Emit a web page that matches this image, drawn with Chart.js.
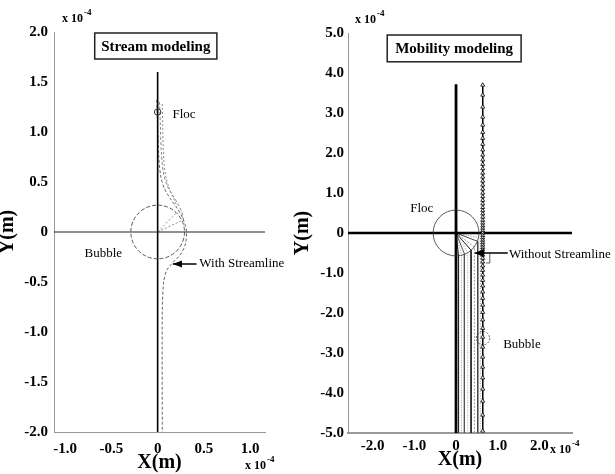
<!DOCTYPE html>
<html><head><meta charset="utf-8">
<script src="https://cdn.jsdelivr.net/npm/chart.js@4/dist/chart.umd.min.js"></script>
<style>
html,body{margin:0;padding:0;background:#fff;}
#wrap{position:relative;width:615px;height:474px;overflow:hidden;background:#fff;}
canvas{position:absolute;left:0;top:0;}
</style></head><body>
<div id="wrap"><canvas id="c1" width="615" height="474"></canvas><canvas id="c2" width="615" height="474"></canvas></div>
<script>
// ===== Left panel: Stream modeling (units x 10^-4 m) =====
const streamXTicks = [-1.0, -0.5, 0, 0.5, 1.0];
const streamXLabels = ['-1.0', '-0.5', '0', '0.5', '1.0'];
const streamYTicks = [2.0, 1.5, 1.0, 0.5, 0, -0.5, -1.0, -1.5, -2.0];
const streamYLabels = ['2.0', '1.5', '1.0', '0.5', '0', '-0.5', '-1.0', '-1.5', '-2.0'];
const streamVertX = [0, 0];
const streamVertY = [1.6, -2.0];
const streamHorX = [-1.12, 1.16];
const streamHorY = [0, 0];
const stream1X = [-0.01, 0, 0.012, 0.035, 0.075, 0.14, 0.21, 0.27, 0.31, 0.3, 0.25, 0.17, 0.1, 0.065, 0.05, 0.05];
const stream1Y = [1.32, 1.05, 0.75, 0.55, 0.43, 0.33, 0.24, 0.14, 0.02, -0.12, -0.22, -0.3, -0.38, -0.5, -0.8, -2.0];
const stream2X = [0.02, 0.03, 0.04, 0.06, 0.1, 0.16, 0.22, 0.26, 0.28];
const stream2Y = [1.3, 1.05, 0.8, 0.6, 0.47, 0.37, 0.28, 0.2, 0.12];
const stream3X = [0.05, 0.055, 0.06, 0.07, 0.09, 0.12, 0.16, 0.2];
const stream3Y = [1.28, 1.05, 0.85, 0.68, 0.55, 0.45, 0.36, 0.28];
const streamRadialX = [0.2, 0.25];
const streamRadialY = [0.19, 0.11];

// ===== Right panel: Mobility modeling (units x 10^-4 m) =====
const mobXTicks = [-2, -1, 0, 1, 2];
const mobXLabels = ['-2.0', '-1.0', '0', '1.0', '2.0'];
const mobYTicks = [5, 4, 3, 2, 1, 0, -1, -2, -3, -4, -5];
const mobYLabels = ['5.0', '4.0', '3.0', '2.0', '1.0', '0', '-1.0', '-2.0', '-3.0', '-4.0', '-5.0'];
const mobVertX = [0, 0];
const mobVertY = [3.72, -5.0];
const mobHorX = [-2.59, 2.78];
const mobHorY = [0, 0];
const bubblePathX = 0.64;
const bubblePathY = [3.7, 3.45, 3.15, 2.9, 2.7, 2.52, 2.37, 2.22, 2.08, 1.95, 1.83, 1.72, 1.61, 1.5, 1.4, 1.3, 1.2, 1.1, 1.0, 0.91, 0.82, 0.73, 0.64, 0.56, 0.48, 0.4, 0.32, 0.25, 0.18, 0.12, 0.06, 0.0, -0.06, -0.12, -0.18, -0.24, -0.3, -0.36, -0.42, -0.48, -0.55, -0.63, -0.72, -0.82, -0.93, -1.05, -1.18, -1.32, -1.47, -1.63, -1.8, -1.98, -2.17, -2.38, -2.6, -2.85, -3.1, -3.35, -3.62, -3.9, -4.2, -4.55, -4.95];
const flocArcX = [0.06, 0.13, 0.2, 0.28, 0.36, 0.44, 0.52, 0.58];
const flocArcY = [-0.56, -0.54, -0.52, -0.49, -0.43, -0.35, -0.21, -0.12];
const flocEndY = -5.0;

const serif = "'Liberation Serif', 'Times New Roman', serif";
const pts = (xs, ys) => xs.map((x, i) => ({x: x, y: ys[i]}));

function makeOverlay(spec) {
  return {
    id: 'overlay',
    afterDatasetsDraw(chart) {
      const ctx = chart.ctx, xs = chart.scales.x, ys = chart.scales.y, ca = chart.chartArea;
      const X = v => xs.getPixelForValue(v), Y = v => ys.getPixelForValue(v);
      ctx.save();
      spec.circles.forEach(c => {
        ctx.beginPath();
        ctx.setLineDash(c.dash);
        ctx.lineWidth = c.width; ctx.strokeStyle = c.color;
        const r = Math.abs(X(c.x + c.r) - X(c.x));
        ctx.arc(X(c.x), Y(c.y), r, 0, Math.PI * 2);
        ctx.stroke();
      });
      ctx.setLineDash([]);
      const b = spec.box;
      ctx.lineWidth = 1.5; ctx.strokeStyle = '#222';
      ctx.strokeRect(X(b.x1), Y(b.y1), X(b.x2) - X(b.x1), Y(b.y2) - Y(b.y1));
      ctx.fillStyle = '#000';
      ctx.font = 'bold 15px ' + serif;
      ctx.textAlign = 'center'; ctx.textBaseline = 'middle';
      ctx.fillText(b.text, (X(b.x1) + X(b.x2)) / 2, (Y(b.y1) + Y(b.y2)) / 2 + 1);
      ctx.font = '13px ' + serif;
      ctx.textAlign = 'left';
      spec.texts.forEach(t => ctx.fillText(t.text, X(t.x), Y(t.y)));
      spec.arrows.forEach(a => {
        ctx.strokeStyle = '#000'; ctx.lineWidth = 1.5;
        ctx.beginPath(); ctx.moveTo(X(a.x1), Y(a.y)); ctx.lineTo(X(a.x2), Y(a.y)); ctx.stroke();
        const tx = X(a.x2), ty = Y(a.y);
        ctx.fillStyle = '#000';
        ctx.beginPath(); ctx.moveTo(tx, ty); ctx.lineTo(tx + a.head, ty - a.half); ctx.lineTo(tx + a.head, ty + a.half); ctx.closePath(); ctx.fill();
      });
      if (spec.bracket) {
        const k = spec.bracket;
        ctx.lineWidth = 0.8; ctx.strokeStyle = '#333';
        ctx.beginPath(); ctx.moveTo(X(k.x2), Y(k.y1)); ctx.lineTo(X(k.x2), Y(k.y2)); ctx.lineTo(X(k.x1), Y(k.y2)); ctx.stroke();
      }
      ctx.fillStyle = '#000';
      spec.exps.forEach(e => {
        const bx = e.ref === 'tl' ? ca.left + e.dx : ca.right + e.dx;
        const by = e.ref === 'tl' ? ca.top + e.dy : ca.bottom + e.dy;
        ctx.font = 'bold 12px ' + serif; ctx.textBaseline = 'alphabetic'; ctx.textAlign = 'left';
        ctx.fillText('x 10', bx, by);
        const w = ctx.measureText('x 10').width;
        ctx.font = 'bold 9px ' + serif;
        ctx.fillText('-4', bx + w + 1, by - 7);
      });
      ctx.restore();
    }
  };
}

function axes(cfg) {
  return {
    x: {
      type: 'linear', position: 'bottom', min: cfg.xmin, max: cfg.xmax,
      afterBuildTicks: s => { s.ticks = cfg.xticks.map(v => ({value: v})); },
      afterFit: s => { s.height = cfg.xh; },
      grid: {display: false, drawTicks: false},
      border: {display: true, color: cfg.xBorderColor, width: cfg.xBorderWidth, dash: cfg.xBorderDash},
      ticks: {padding: cfg.xpad, color: '#000', autoSkip: false, maxRotation: 0,
        font: {family: serif, size: 15, weight: 'bold'}, callback: (v, i) => cfg.xlabels[i]},
      title: {display: true, text: 'X(m)', color: '#000', font: {family: serif, size: 20, weight: 'bold'},
        padding: {top: 0, bottom: cfg.xtpad}}
    },
    y: {
      type: 'linear', position: 'left', min: cfg.ymin, max: cfg.ymax,
      afterBuildTicks: s => { s.ticks = cfg.yticks.map(v => ({value: v})); },
      afterFit: s => { s.width = cfg.yw; },
      grid: {display: false, drawTicks: false},
      border: {display: true, color: '#9a9a9a', width: 1, dash: [1, 2]},
      ticks: {padding: cfg.ypad, color: '#000', autoSkip: false,
        font: {family: serif, size: 15, weight: 'bold'}, callback: (v, i) => cfg.ylabels[i]},
      title: {display: true, text: 'Y(m)', color: '#000', font: {family: serif, size: 20, weight: 'bold'},
        padding: {top: cfg.ytpad, bottom: 0}}
    }
  };
}

const lineDs = (data, color, width, dash, tension) => ({
  data: data, showLine: true, borderColor: color, borderWidth: width, borderDash: dash,
  pointRadius: 0, fill: false, tension: tension || 0
});

new Chart(document.getElementById('c1'), {
  type: 'scatter',
  data: {datasets: [
    lineDs(pts(streamVertX, streamVertY), '#000', 1.6, []),
    lineDs(pts(streamHorX, streamHorY), '#222', 1, []),
    lineDs(pts(stream1X, stream1Y), '#666', 1, [3, 2], 0.3),
    lineDs(pts(stream2X, stream2Y), '#888', 1, [3, 2], 0.3),
    lineDs(pts(stream3X, stream3Y), '#888', 1, [2, 2], 0.3),
    lineDs([{x: 0, y: 0}, {x: streamRadialX[0], y: streamRadialY[0]}], '#777', 0.8, [2, 2]),
    lineDs([{x: 0, y: 0}, {x: streamRadialX[1], y: streamRadialY[1]}], '#777', 0.8, [2, 2])
  ]},
  options: {
    responsive: false, devicePixelRatio: 1, animation: false,
    layout: {padding: {left: 0, top: 32, right: 350, bottom: 0}},
    plugins: {legend: {display: false}, tooltip: {enabled: false}},
    scales: axes({xmin: -1.12, xmax: 1.16, xticks: streamXTicks, xlabels: streamXLabels, xh: 42, xpad: 8, xtpad: -1,
      xBorderColor: '#9a9a9a', xBorderWidth: 1, xBorderDash: [1, 2],
      ymin: -2, ymax: 2, yticks: streamYTicks, ylabels: streamYLabels, yw: 54, ypad: 6, ytpad: -4})
  },
  plugins: [makeOverlay({
    circles: [{x: 0, y: 0, r: 0.29, color: '#555', width: 1, dash: [4, 2]},
              {x: 0, y: 1.2, r: 0.035, color: '#333', width: 1, dash: []}],
    box: {x1: -0.68, x2: 0.64, y1: 1.99, y2: 1.73, text: 'Stream modeling'},
    texts: [{text: 'Floc', x: 0.16, y: 1.17}, {text: 'Bubble', x: -0.79, y: -0.22}, {text: 'With Streamline', x: 0.45, y: -0.32}],
    arrows: [{x1: 0.42, x2: 0.165, y: -0.32, head: 9, half: 3.5}],
    exps: [{ref: 'tl', dx: 8, dy: -10}, {ref: 'br', dx: -20, dy: 37}]
  })]
});

const flocStyles = [['#222', []], ['#999', [1, 1.5]], ['#555', []], ['#aaa', [1, 1.5]], ['#222', []], ['#999', [2, 1.5]], ['#444', []], ['#888', [1, 1.5]]];
const flocSets = flocArcX.map((x, i) => lineDs([{x: 0, y: 0}, {x: x, y: flocArcY[i]}, {x: x, y: flocEndY}], flocStyles[i][0], 1, flocStyles[i][1]));
new Chart(document.getElementById('c2'), {
  type: 'scatter',
  data: {datasets: [
    {data: bubblePathY.map(y => ({x: bubblePathX, y: y})), showLine: true, borderColor: '#000', borderWidth: 1,
     pointStyle: 'triangle', pointRadius: 2.3, pointBorderWidth: 0.8, pointBorderColor: '#000', pointBackgroundColor: '#fff', fill: false},
    lineDs(pts(mobVertX, mobVertY), '#000', 2.8, []),
    lineDs(pts(mobHorX, mobHorY), '#000', 2.5, [])
  ].concat(flocSets)},
  options: {
    responsive: false, devicePixelRatio: 1, animation: false,
    layout: {padding: {left: 295, top: 33, right: 43, bottom: 0}},
    plugins: {legend: {display: false}, tooltip: {enabled: false}},
    scales: axes({xmin: -2.59, xmax: 2.78, xticks: mobXTicks, xlabels: mobXLabels, xh: 41, xpad: 4, xtpad: 2,
      xBorderColor: '#999', xBorderWidth: 2, xBorderDash: [],
      ymin: -5, ymax: 5, yticks: mobYTicks, ylabels: mobYLabels, yw: 53, ypad: 4, ytpad: -4})
  },
  plugins: [makeOverlay({
    circles: [{x: 0, y: 0, r: 0.55, color: '#333', width: 0.8, dash: []},
              {x: 0.647, y: -2.63, r: 0.16, color: '#333', width: 0.8, dash: [2, 1.5]}],
    box: {x1: -1.65, x2: 1.56, y1: 4.95, y2: 4.28, text: 'Mobility modeling'},
    texts: [{text: 'Floc', x: -1.1, y: 0.6}, {text: 'Without Streamline', x: 1.27, y: -0.55}, {text: 'Bubble', x: 1.13, y: -2.78}],
    arrows: [{x1: 1.24, x2: 0.45, y: -0.5, head: 9, half: 4}],
    bracket: {x1: 0.72, x2: 0.81, y1: -0.5, y2: -0.75},
    exps: [{ref: 'tl', dx: 7, dy: -10}, {ref: 'br', dx: -22, dy: 20}]
  })]
});
</script>
</body></html>
